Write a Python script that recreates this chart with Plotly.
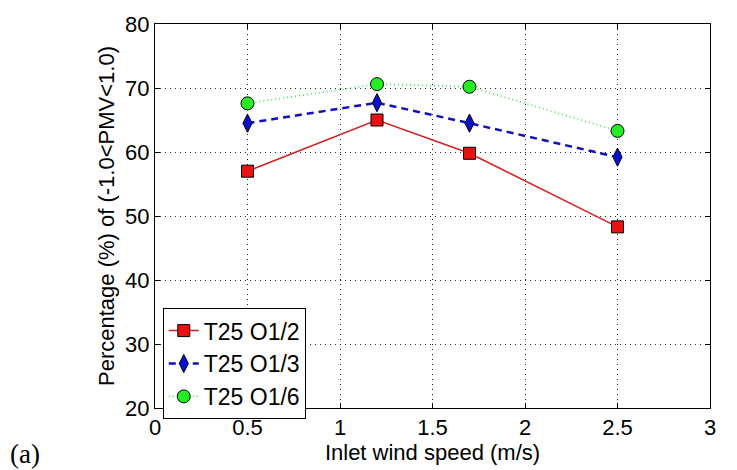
import plotly.graph_objects as go

speed = [0.5, 1.2, 1.7, 2.5]
o12 = [57.0, 65.0, 59.8, 48.3]
o13 = [64.5, 67.7, 64.5, 59.2]
o16 = [67.6, 70.6, 70.2, 63.3]
names = ["T25 O1/2", "T25 O1/3", "T25 O1/6"]

FONT = "Arial, Liberation Sans"

fig = go.Figure()
fig.add_trace(go.Scatter(x=speed, y=o12, name=names[0], mode="lines+markers",
                         line=dict(color="#d42020", width=1.5, dash="solid"),
                         marker=dict(symbol="square", size=12, color="#ee1111",
                                     line=dict(color="black", width=1))))
fig.add_trace(go.Scatter(x=speed, y=o13, name=names[1], mode="lines+markers",
                         line=dict(color="#1010c0", width=2.5, dash="7px,5px"),
                         marker=dict(symbol="diamond-tall", size=13, color="#0a10d0",
                                     line=dict(color="black", width=1))))
fig.add_trace(go.Scatter(x=speed, y=o16, name=names[2], mode="lines+markers",
                         line=dict(color="#44dd44", width=1.5, dash="1px,3px"),
                         marker=dict(symbol="circle", size=13, color="#22ee22",
                                     line=dict(color="black", width=1))))

axis_common = dict(showline=True, linecolor="black", linewidth=1, mirror="ticks",
                   ticks="inside", ticklen=5, tickcolor="black",
                   showgrid=True, gridcolor="#222222", griddash="1px,4px", gridwidth=1,
                   zeroline=False, tickfont=dict(family=FONT, size=22, color="black"))

fig.update_xaxes(range=[0, 3], tickvals=[0, 0.5, 1, 1.5, 2, 2.5, 3],
                 ticktext=["0", "0.5", "1", "1.5", "2", "2.5", "3"],
                 title=dict(text="Inlet wind speed (m/s)", standoff=2,
                            font=dict(family=FONT, size=22, color="black")),
                 **axis_common)
fig.update_yaxes(range=[20, 80], dtick=10,
                 title=dict(text="Percentage (%) of (-1.0<PMV<1.0)", standoff=4,
                            font=dict(family=FONT, size=22, color="black")),
                 **axis_common)

fig.update_layout(
    width=737, height=470,
    margin=dict(l=155, r=27, t=20, b=58),
    paper_bgcolor="white", plot_bgcolor="white",
    showlegend=True,
    legend=dict(x=0.014, y=0.26, xanchor="left", yanchor="top",
                bgcolor="white", bordercolor="black", borderwidth=1,
                font=dict(family=FONT, size=23, color="black"),
                itemwidth=30, tracegroupgap=0),
)
fig.add_annotation(text="(a)", xref="paper", yref="paper", x=-0.265, y=-0.163,
                   xanchor="left", yanchor="bottom", showarrow=False,
                   font=dict(family="Liberation Serif, Times New Roman", size=27, color="black"))

fig.write_html("out.html")
